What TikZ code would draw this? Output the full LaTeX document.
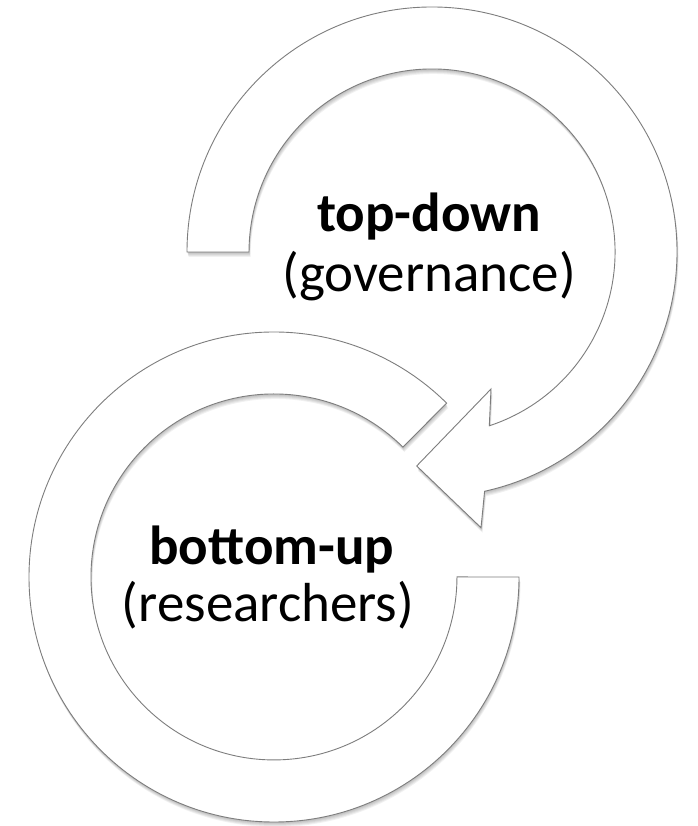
\documentclass[tikz,border=0pt]{standalone}
\usepackage{fontspec}
\setmainfont{Carlito}
\begin{document}
\begin{tikzpicture}[x=1pt,y=1pt]
\definecolor{ringgray}{RGB}{125,125,125}
\tikzset{
  ringshape/.style={draw=ringgray, line width=0.9pt, fill=white, line join=miter},
  shadowlayer/.style={fill=black, fill opacity=0.055, draw=none},
  headtext/.style={anchor=base, inner sep=0pt, font=\fontsize{55}{60}\selectfont\bfseries},
  subtext/.style={anchor=base, inner sep=0pt, font=\fontsize{55}{60}\selectfont},
}
\def\toppath{(187,574) arc[start angle=180, end angle=-77.6, radius=245pt]
  -- (481,298.3) -- (416.7,360) -- (491,437) -- (489.3,400.2)
  arc[start angle=-71.76, end angle=180, radius=183pt] -- cycle}
\def\botpath{(519,249) arc[start angle=0, end angle=-314.8, radius=245pt]
  -- (402.9,378.9) arc[start angle=-314.8, end angle=0, radius=183pt] -- cycle}
\useasboundingbox (0,0) rectangle (697,826);
\fill[white] (0,0) rectangle (697,826);
% soft shadows
\foreach \s in {1,2,3,4,5}{
  \fill[shadowlayer, yshift=-\s pt, xshift=0.3*\s pt] \toppath;
  \fill[shadowlayer, yshift=-\s pt, xshift=0.3*\s pt] \botpath;
}
% rings
\path[ringshape] \toppath;
\path[ringshape] \botpath;
% labels
\node[headtext] (td) at (429,594) {top-down};
\node[subtext] (gov) at (429,534.3) {(governance)};
\node[headtext] (bu) at (271.7,261) {bottom-up};
\node[subtext] (res) at (268,204) {(researchers)};
\end{tikzpicture}
\end{document}
